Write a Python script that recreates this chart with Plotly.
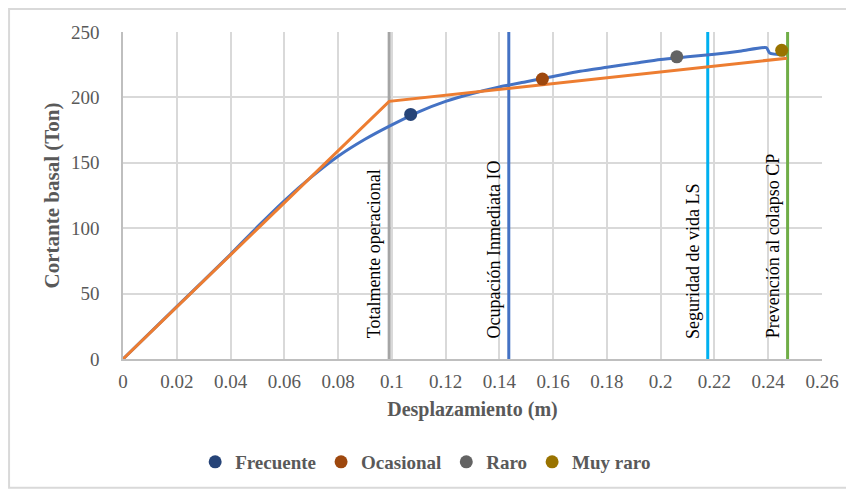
import plotly.graph_objects as go

# Capacity curve (pushover)
curve_x = [0, 0.02, 0.04, 0.05, 0.06, 0.07, 0.08, 0.09, 0.1, 0.11, 0.12, 0.13, 0.14,
           0.15, 0.16, 0.17, 0.18, 0.19, 0.2, 0.21, 0.22, 0.23, 0.2393, 0.2405, 0.2462]
curve_y = [0, 40, 80, 101, 121, 139, 155, 168, 179, 189, 197, 203, 208,
           212, 216, 220, 223, 226, 229, 231, 233, 235.5, 238, 234, 232.5]

# Bilinear idealisation
bilin_x = [0, 0.099, 0.247]
bilin_y = [0, 197, 230]

# Performance points
perf_names = ["Frecuente", "Ocasional", "Raro", "Muy raro"]
perf_x = [0.107, 0.156, 0.206, 0.245]
perf_y = [187, 214, 231, 236]
perf_colors = ["#264478", "#9E480E", "#636363", "#997300"]

# Performance levels
level_names = ["Totalmente operacional", "Ocupación Inmediata IO",
               "Seguridad de vida LS", "Prevención al colapso CP"]
level_x = [0.099, 0.1435, 0.2175, 0.2472]
level_colors = ["#A5A5A5", "#4472C4", "#00B0F0", "#70AD47"]

x_ticks = [0, 0.02, 0.04, 0.06, 0.08, 0.1, 0.12, 0.14, 0.16, 0.18, 0.2, 0.22, 0.24, 0.26]
x_ticktext = ["0", "0.02", "0.04", "0.06", "0.08", "0.1", "0.12", "0.14", "0.16",
              "0.18", "0.2", "0.22", "0.24", "0.26"]
y_ticks = [0, 50, 100, 150, 200, 250]

FONT = "Liberation Serif"
GREY = "#595959"

fig = go.Figure()

for name, xv, col in zip(level_names, level_x, level_colors):
    fig.add_trace(go.Scatter(
        x=[xv, xv], y=[0, 250], mode="lines",
        line=dict(color=col, width=3), showlegend=False, hoverinfo="skip",
    ))
    fig.add_annotation(
        x=xv, y=14, text=name, textangle=-90, showarrow=False,
        xanchor="right", yanchor="bottom", xshift=-3,
        font=dict(family=FONT, size=18, color="#000000"),
    )

fig.add_trace(go.Scatter(
    x=curve_x, y=curve_y, mode="lines", line=dict(color="#4472C4", width=3, shape="spline", smoothing=0.6),
    showlegend=False, hoverinfo="skip",
))
fig.add_trace(go.Scatter(
    x=bilin_x, y=bilin_y, mode="lines", line=dict(color="#ED7D31", width=3),
    showlegend=False, hoverinfo="skip",
))

for name, xv, yv, col in zip(perf_names, perf_x, perf_y, perf_colors):
    fig.add_trace(go.Scatter(
        x=[xv], y=[yv], mode="markers", name=name,
        marker=dict(color=col, size=13),
    ))

# page body has an 8px margin, so the figure is offset by 8px
fig.update_layout(
    width=846, height=485,
    margin=dict(l=115, r=32, t=24, b=134),
    paper_bgcolor="white", plot_bgcolor="white",
    font=dict(family=FONT, color=GREY, size=19),
    legend=dict(
        orientation="h", x=0.433, xanchor="center", y=-0.315, yanchor="middle",
        font=dict(family=FONT, size=19, color=GREY, weight="bold"),
        itemwidth=30, tracegroupgap=0,
    ),
    shapes=[dict(type="rect", xref="paper", yref="paper", x0=-0.163, x1=1.037, y0=-0.394, y1=1.07,
                 line=dict(color="#D9D9D9", width=2))],
)

fig.update_xaxes(
    range=[0, 0.26], tickvals=x_ticks, ticktext=x_ticktext,
    showgrid=True, gridcolor="#D9D9D9", gridwidth=1.5, zeroline=False,
    showline=True, linecolor="#BFBFBF", linewidth=1.5,
    ticks="", tickfont=dict(family=FONT, size=19, color=GREY), ticklabelstandoff=4,
    title=dict(text="<b>Desplazamiento (m)</b>", font=dict(family=FONT, size=20, color=GREY), standoff=11),
)
fig.update_yaxes(
    range=[0, 250], tickvals=y_ticks,
    showgrid=True, gridcolor="#D9D9D9", gridwidth=1.5, zeroline=False,
    showline=True, linecolor="#BFBFBF", linewidth=1.5,
    ticks="", tickfont=dict(family=FONT, size=19, color=GREY), ticklabelstandoff=18,
    title=dict(text="<b>Cortante basal (Ton)</b>", font=dict(family=FONT, size=21, color=GREY), standoff=6),
)

fig.write_html("out.html")
